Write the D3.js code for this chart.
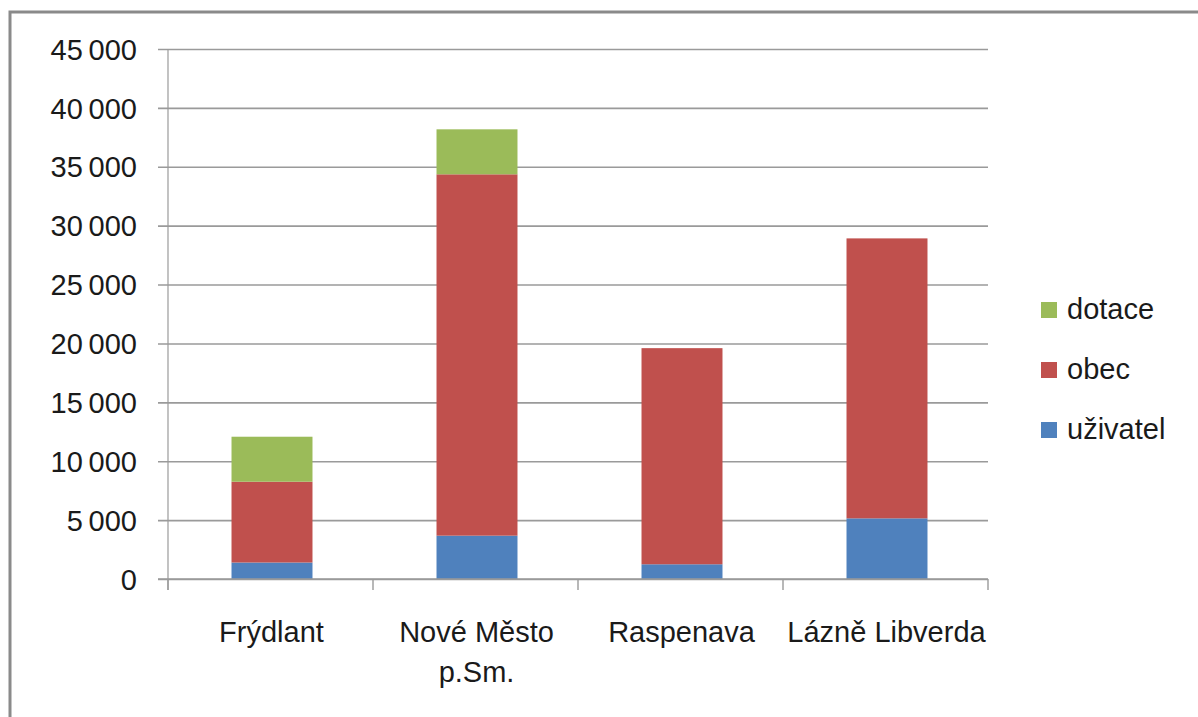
<!DOCTYPE html>
<html>
<head>
<meta charset="utf-8">
<script src="https://cdn.jsdelivr.net/npm/d3@7"></script>
<style>
  html, body { margin: 0; padding: 0; background: #fff; }
  svg { display: block; }
  text { font-family: "Liberation Sans", Arial, sans-serif; fill: #1a1a1a; }
</style>
</head>
<body>
<svg id="chart" width="1198" height="717"></svg>
<script>
const categories = ["Frýdlant", "Nové Město p.Sm.", "Raspenava", "Lázně Libverda"];
const categoryLines = [["Frýdlant"], ["Nové Město", "p.Sm."], ["Raspenava"], ["Lázně Libverda"]];
const seriesNames = ["uživatel", "obec", "dotace"];
const uzivatel = [1400, 3680, 1250, 5150];
const obec = [6860, 30680, 18350, 23770];
const dotace = [3820, 3820, 0, 0];
const yTicks = [0, 5000, 10000, 15000, 20000, 25000, 30000, 35000, 40000, 45000];
const colors = ["#4f81bd", "#c0504d", "#9bbb59"];

const svg = d3.select("#chart");
const W = 1198, H = 717;
const plot = { left: 168, right: 988, top: 49, bottom: 579 };

svg.append("rect").attr("width", W).attr("height", H).attr("fill", "#ffffff");
// outer frame (top + left visible)
svg.append("rect").attr("x", 10).attr("y", 12).attr("width", W + 20).attr("height", H + 20)
  .attr("fill", "none").attr("stroke", "#8a8a8a").attr("stroke-width", 3);

const x = d3.scaleBand().domain(categories).range([plot.left, plot.right]).paddingInner(0).paddingOuter(0);
const y = d3.scaleLinear().domain([0, 45000]).range([plot.bottom, plot.top]);

const fmt = v => d3.format(",")(v).replace(/,/g, "\u2009");

// gridlines + y labels
const yAxis = d3.axisLeft(y).tickValues(yTicks).tickSize(-(plot.right - plot.left) - 10).tickFormat(fmt).tickPadding(20);
const gy = svg.append("g").attr("transform", `translate(${plot.left},0)`).call(yAxis);
gy.select(".domain").remove();
gy.selectAll(".tick line").attr("x1", -10).attr("x2", plot.right - plot.left)
  .attr("stroke", "#9a9a9a").attr("stroke-width", 1.6);
gy.selectAll(".tick text").attr("x", -31).attr("font-size", 29).attr("fill", "#1a1a1a")
  .attr("font-family", "'Liberation Sans', Arial, sans-serif").attr("dy", "0.35em");

// vertical axis line
svg.append("line").attr("x1", plot.left).attr("x2", plot.left).attr("y1", plot.top).attr("y2", plot.bottom + 11)
  .attr("stroke", "#9a9a9a").attr("stroke-width", 1.2);

// x axis ticks at category boundaries
const bounds = categories.map(c => x(c)).concat([x(categories[categories.length - 1]) + x.bandwidth()]);
svg.append("g").selectAll("line").data(bounds).join("line")
  .attr("x1", d => d).attr("x2", d => d).attr("y1", plot.bottom).attr("y2", plot.bottom + 11)
  .attr("stroke", "#9a9a9a").attr("stroke-width", 1.4);

// stacked bars
const rows = categories.map((c, i) => ({ cat: c, "uživatel": uzivatel[i], "obec": obec[i], "dotace": dotace[i] }));
const stacked = d3.stack().keys(seriesNames)(rows);
const barW = x.bandwidth() * 0.395;
svg.append("g").selectAll("g").data(stacked).join("g")
  .attr("fill", (d, i) => colors[i])
  .selectAll("rect").data(d => d).join("rect")
  .attr("x", d => x(d.data.cat) + (x.bandwidth() - barW) / 2 + 1.5)
  .attr("width", barW)
  .attr("y", d => y(d[1]))
  .attr("height", d => Math.max(0, y(d[0]) - y(d[1])));

// redraw baseline above bars
svg.append("line").attr("x1", plot.left - 10).attr("x2", plot.right).attr("y1", plot.bottom).attr("y2", plot.bottom)
  .attr("stroke", "#9a9a9a").attr("stroke-width", 1.6);

// category labels
const xl = svg.append("g");
categories.forEach((c, i) => {
  const t = xl.append("text").attr("text-anchor", "middle").attr("font-size", 29)
    .attr("x", x(c) + x.bandwidth() / 2 + 1).attr("y", 642);
  categoryLines[i].forEach((ln, j) => {
    t.append("tspan").attr("x", x(c) + x.bandwidth() / 2 + 1).attr("y", 642 + j * 40).text(ln);
  });
});

// legend
const legendItems = ["dotace", "obec", "uživatel"];
const legendColors = [colors[2], colors[1], colors[0]];
const lg = svg.append("g");
legendItems.forEach((name, i) => {
  const cy = 310 + i * 60;
  lg.append("rect").attr("x", 1041).attr("y", cy - 8).attr("width", 16).attr("height", 16).attr("fill", legendColors[i]);
  lg.append("text").attr("x", 1067).attr("y", cy + 9).attr("font-size", 29).text(name);
});
</script>
</body>
</html>
